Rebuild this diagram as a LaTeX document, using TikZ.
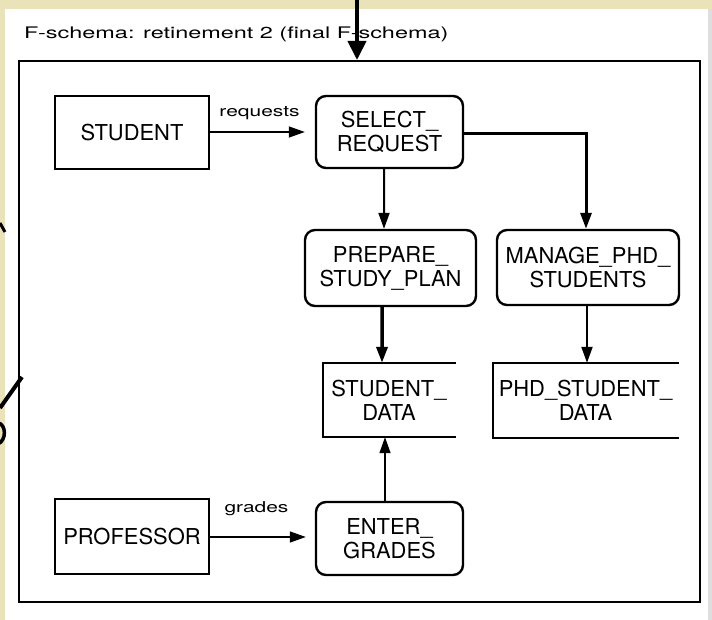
\documentclass[tikz,border=0pt]{standalone}
\usepackage{fontspec}
\usepackage{graphicx}
\setmainfont{TeX Gyre Heros}
\usetikzlibrary{arrows.meta}
\definecolor{slidebg}{RGB}{234,226,185}
\definecolor{edgegray}{RGB}{222,222,222}
\newcommand{\diafont}{\fontsize{22}{24}\selectfont}
\newcommand{\smallwide}[1]{{\fontsize{15}{17}\selectfont\scalebox{1.4}[1]{#1}}}
\begin{document}
\begin{tikzpicture}[x=1bp,y=-1bp,
  proc/.style={draw, line width=2.4bp, rounded corners=10bp, align=center,
    inner sep=0pt, font=\diafont},
  ext/.style={draw, line width=2.4bp, align=center, inner sep=0pt, font=\diafont},
  store/.style={align=center, inner sep=0pt, font=\diafont},
  tipA/.style={-{Triangle[length=16bp,width=11bp]}},
  thinflow/.style={tipA, line width=1.5bp},
  midflow/.style={tipA, line width=2bp},
  thickflow/.style={tipA, line width=3bp},
  storeline/.style={line width=2.4bp, line cap=rect},
  flowlabel/.style={inner sep=0pt, anchor=base}
]
% page and scanned sheet
\useasboundingbox (0,0) rectangle (712,620);
\fill[slidebg] (0,0) rectangle (712,620);
\fill[white] (5,9) rectangle (708,620);
\fill[edgegray] (708,9) rectangle (712,620);

% title
\node[inner sep=0pt, anchor=base west] (title) at (24,39)
  {\fontsize{16}{18}\selectfont\scalebox{1.47}[1]{F-schema: retinement 2 (final F-schema)}};

% outer frame
\node[draw, line width=2bp, minimum width=681bp, minimum height=541bp, inner sep=0pt]
  (frame) at (359.5,331.5) {};

% process and external boxes
\node[ext, minimum width=154bp, minimum height=73bp] (student) at (132,132.5) {STUDENT};
\node[proc, minimum width=147bp, minimum height=72bp] (select) at (389.5,132) {SELECT\_\\REQUEST};
\node[proc, minimum width=171bp, minimum height=76bp] (prepare) at (390.5,268) {PREPARE\_\\STUDY\_PLAN};
\node[proc, minimum width=182bp, minimum height=75bp] (manage) at (588,267.5) {MANAGE\_PHD\_\\STUDENTS};
\node[ext, minimum width=154bp, minimum height=75bp] (professor) at (132,536.5) {PROFESSOR};
\node[proc, minimum width=147bp, minimum height=73bp] (enter) at (389.5,538.5) {ENTER\_\\GRADES};

% data stores (open on the right)
\node[store, minimum width=132bp, minimum height=74bp] (sdata) at (389,400) {STUDENT\_\\DATA};
\node[store, minimum width=185bp, minimum height=75bp] (pdata) at (585.5,400.5) {PHD\_STUDENT\_\\DATA};
\draw[storeline] (sdata.north east) -- (sdata.north west) -- (sdata.south west) -- (sdata.south east);
\draw[storeline] (pdata.north east) -- (pdata.north west) -- (pdata.south west) -- (pdata.south east);

% flows
\draw[thinflow, shorten >=10bp] (student.east |- 0,132) --
  node[flowlabel, xshift=-3bp, yshift=15bp] {\smallwide{requests}} (select.west |- 0,132);
\draw[thinflow, shorten >=9bp] (professor.east |- 0,537) --
  node[flowlabel, xshift=-6bp, yshift=25bp] {\smallwide{grades}} (enter.west |- 0,537);
\draw[midflow] ([xshift=-5.5bp]select.south) -- ([xshift=-6.5bp]prepare.north);
\draw[thickflow] ([yshift=-2bp]select.east) -| ([xshift=-2bp]manage.north);
\draw[thickflow, line width=3.5bp] ([xshift=-8.5bp]prepare.south) -- ([xshift=-7bp]sdata.north);
\draw[midflow] ([xshift=-1bp]manage.south) -- ([xshift=1.5bp]pdata.north);
\draw[thinflow] ([xshift=-4.5bp]enter.north) -- ([xshift=-4bp]sdata.south);

% heavy pointer entering the frame from above
\coordinate (topin) at (357,0);
\draw[line width=4bp, -{Triangle[length=19bp,width=18bp]}] (topin) -- (topin |- frame.north);

% overlay strokes cut off at the left edge
\draw[line width=3bp] (0,223) -- (5,232);
\draw[line width=4bp] (22,377) -- (0,408);
\draw[line width=3.5bp] (-2,423) .. controls (6,424) and (7,440) .. (-2,444);
\end{tikzpicture}
\end{document}
